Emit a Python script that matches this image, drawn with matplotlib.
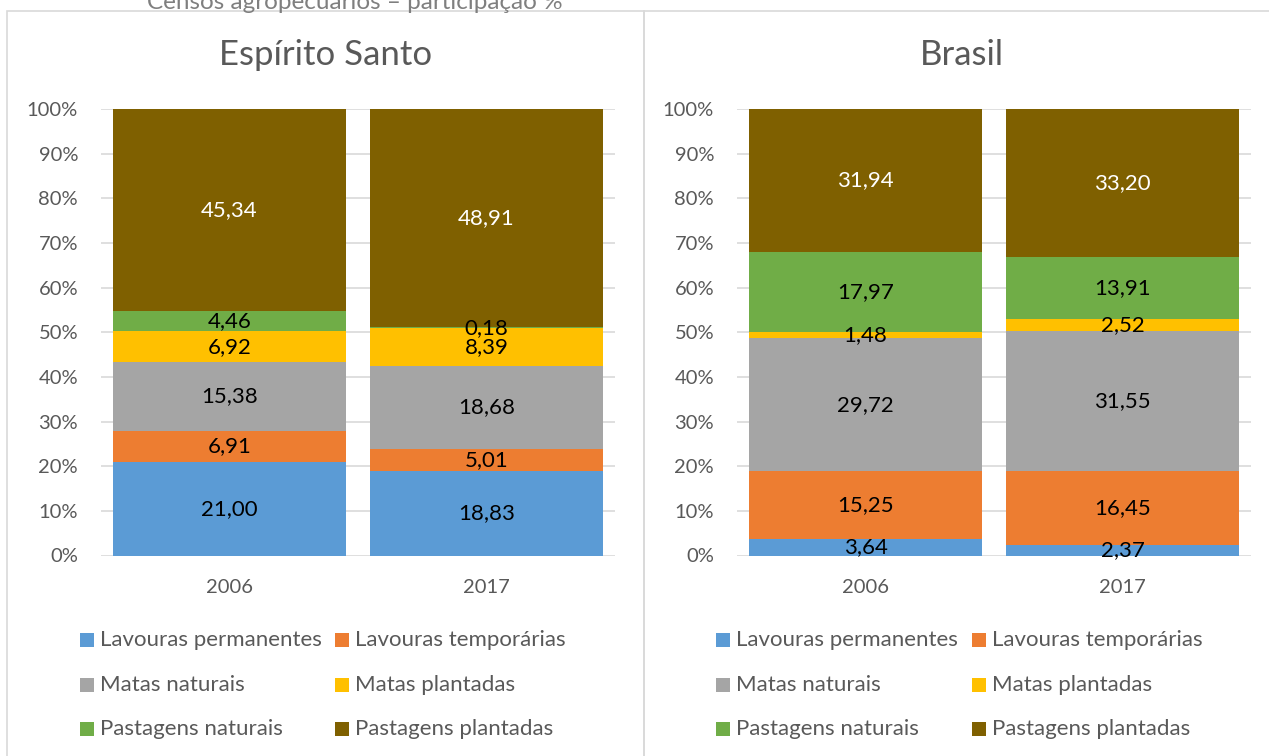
import matplotlib.pyplot as plt
from matplotlib.patches import Rectangle

# -----------------------------
# Data
# -----------------------------
anos = ["2006", "2017"]
series = ["Lavouras permanentes", "Lavouras temporárias", "Matas naturais",
          "Matas plantadas", "Pastagens naturais", "Pastagens plantadas"]
cores = ["#5B9BD5", "#ED7D31", "#A5A5A5", "#FFC000", "#70AD47", "#7F6000"]

es_2006 = [21.00, 6.91, 15.38, 6.92, 4.46, 45.34]
es_2017 = [18.83, 5.01, 18.68, 8.39, 0.18, 48.91]
br_2006 = [3.64, 15.25, 29.72, 1.48, 17.97, 31.94]
br_2017 = [2.37, 16.45, 31.55, 2.52, 13.91, 33.20]

paineis = [("Espírito Santo", es_2006, es_2017), ("Brasil", br_2006, br_2017)]

plt.rcParams['font.family'] = ['Lato', 'DejaVu Sans']
W, H = 1269, 756
fig = plt.figure(figsize=(W / 100, H / 100), dpi=100)

cinza = "#595959"
grade = "#D9D9D9"

# header (cut at the top in the original)
fig.text(355 / W, 1 - 9 / H, "Censos agropecuários – participação %",
         ha='center', va='baseline', fontsize=17.5, color="#7F7F7F")

# panel borders
fig.patches.append(Rectangle((7 / W, -0.05), 637 / W, 1.05 - 11 / H,
                             transform=fig.transFigure, fill=False,
                             edgecolor=grade, lw=1.2))
fig.patches.append(Rectangle((644 / W, -0.05), 640 / W, 1.05 - 11 / H,
                             transform=fig.transFigure, fill=False,
                             edgecolor=grade, lw=1.2))

ax_left = [101, 737]
title_x = [326, 962]
leg_x = [(80, 335), (716, 972)]
leg_y = [640, 685, 729]

for k, (titulo, v2006, v2017) in enumerate(paineis):
    ax = fig.add_axes([ax_left[k] / W, 1 - 555.5 / H, 514 / W, 446.5 / H])
    dados = [v2006, v2017]
    base = [0.0, 0.0]
    for i, nome in enumerate(series):
        vals = [dados[0][i], dados[1][i]]
        ax.bar([0, 1], vals, bottom=base, width=0.907, color=cores[i], zorder=2)
        for j in range(2):
            cor_txt = "white" if i == 5 else "black"
            ax.text(j, base[j] + vals[j] / 2, f"{vals[j]:.2f}".replace(".", ","),
                    ha='center', va='center', fontsize=16, color=cor_txt, zorder=3)
        base = [base[0] + vals[0], base[1] + vals[1]]

    ax.set_xlim(-0.5, 1.5)
    ax.set_ylim(0, 100)
    ax.set_yticks(range(0, 101, 10))
    ax.set_yticklabels([f"{t}%" for t in range(0, 101, 10)])
    ax.set_xticks([0, 1])
    ax.set_xticklabels(anos)
    ax.tick_params(length=0, labelsize=14.5, colors=cinza)
    ax.tick_params(axis='y', pad=16.5)
    ax.tick_params(axis='x', pad=17)
    ax.grid(axis='y', color=grade, lw=1.2, zorder=0)
    for s in ax.spines.values():
        s.set_visible(False)

    fig.text(title_x[k] / W, 1 - 55 / H, titulo, ha='center', va='center',
             fontsize=25, color=cinza)

    # legend (2 columns x 3 rows)
    for i, nome in enumerate(series):
        col, lin = i % 2, i // 2
        x0 = leg_x[k][col]
        y0 = leg_y[lin]
        fig.patches.append(Rectangle((x0 / W, 1 - (y0 + 7) / H), 14 / W, 14 / H,
                                     transform=fig.transFigure,
                                     facecolor=cores[i], edgecolor='none'))
        fig.text((x0 + 20) / W, 1 - y0 / H, nome, ha='left', va='center',
                 fontsize=16, color=cinza)

fig.savefig("out.png", dpi=100)
